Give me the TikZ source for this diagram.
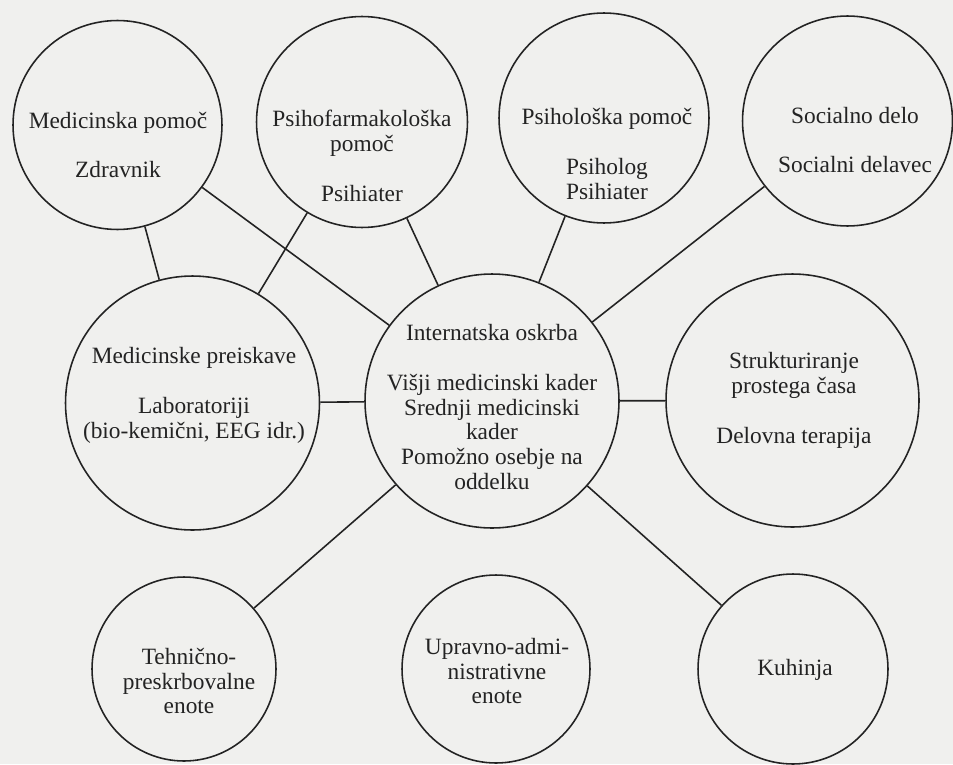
\documentclass[tikz,border=0pt]{standalone}
\usepackage{fontspec}
\setmainfont{Liberation Serif}
\usepackage{xcolor}
\usepackage{tikz}
\definecolor{paper}{RGB}{240,240,238}
\definecolor{ink}{RGB}{35,35,35}

\begin{document}
\begin{tikzpicture}[x=0.02cm,y=-0.02cm,
  bubble/.style={draw=ink,line width=0.9pt,circle,inner sep=0pt},
  bubbletext/.style={align=center,text=ink,font=\fontsize{13.3}{14.2}\selectfont},
  link/.style={draw=ink,line width=0.9pt}]
  \fill[paper] (0,0) rectangle (953,764);
  \useasboundingbox (0,0) rectangle (953,764);
  % top row
  \node[bubble,minimum size=4.18cm] (mp) at (117.5,125) {};
  \node[bubbletext] (mptext) at (118,145) {Medicinska pomoč\\[14.2pt] Zdravnik};
  \node[bubble,minimum size=4.22cm] (pf) at (362,122) {};
  \node[bubbletext] (pftext) at (362,156) {Psihofarmakološka\\ pomoč\\[14.2pt] Psihiater};
  \node[bubble,minimum size=4.2cm] (pp) at (604,118) {};
  \node[bubbletext] (pptext) at (607,154) {Psihološka pomoč\\[14.2pt] Psiholog\\ Psihiater};
  \node[bubble,minimum size=4.2cm] (sd) at (847.5,121) {};
  \node[bubbletext] (sdtext) at (855,140) {Socialno delo\\[14.2pt] Socialni delavec};
  % middle row
  \node[bubble,minimum size=5.08cm] (mpr) at (192.5,403) {};
  \node[bubbletext] (mprtext) at (194,395) {Medicinske preiskave\\[14.2pt] Laboratoriji\\ (bio-kemični, EEG idr.)};
  \node[bubble,minimum size=5.08cm] (io) at (492,401) {};
  \node[bubbletext] (iotext) at (492,407) {Internatska oskrba\\[14.2pt] Višji medicinski kader\\ Srednji medicinski\\ kader\\ Pomožno osebje na\\ oddelku};
  \node[bubble,minimum size=5.06cm] (sp) at (792.5,400.5) {};
  \node[bubbletext] (sptext) at (794,400) {Strukturiranje\\ prostega časa\\[14.2pt] Delovna terapija};
  % bottom row
  \node[bubble,minimum size=3.68cm] (tp) at (184,669) {};
  \node[bubbletext] (tptext) at (189,681) {Tehnično-\\ preskrbovalne\\ enote};
  \node[bubble,minimum size=3.76cm] (ua) at (496,669) {};
  \node[bubbletext] (uatext) at (497,671) {Upravno-admi-\\ nistrativne\\ enote};
  \node[bubble,minimum size=3.8cm] (ku) at (793,669) {};
  \node[bubbletext] (kutext) at (795,670) {Kuhinja};
  % links
  \foreach \a/\b in {mp/mpr,mp/io,pf/mpr,pf/io,pp/io,sd/io,mpr/io,io/sp,io/tp,io/ku}
    \draw[link] (\a) -- (\b);
\end{tikzpicture}
\end{document}
